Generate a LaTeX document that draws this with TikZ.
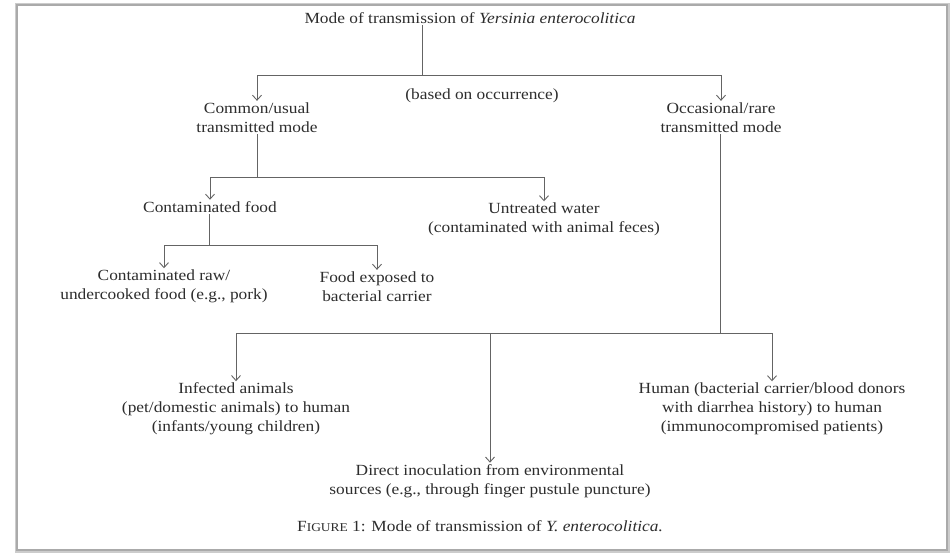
\documentclass[tikz,border=0pt]{standalone}
\usepackage{fontspec}
\setmainfont{Liberation Serif}[FakeStretch=1.12]
\usetikzlibrary{arrows.meta}
\definecolor{txt}{RGB}{45,45,45}
\definecolor{ln}{RGB}{100,100,100}
\definecolor{frm}{RGB}{170,170,170}
\tikzset{
  lbl/.style={text=txt, align=center, inner sep=1.5pt, font=\fontsize{15.5}{19}\selectfont},
  conn/.style={draw=ln, line width=0.9pt},
  arr/.style={conn, -{Straight Barb[length=5pt,width=9pt,line width=0.9pt]}},
}
\begin{document}
\begin{tikzpicture}[x=1pt,y=-1pt]
\useasboundingbox (0,0) rectangle (952,554);
\fill[white] (0,0) rectangle (952,554);
\draw[frm!60, line width=3pt] (16,4) rectangle (948,551);
\draw[frm, line width=1.5pt] (17,5) rectangle (947,550);
% nodes
\node[lbl] (title) at (470,18) {Mode of transmission of \textit{Yersinia enterocolitica}};
\node[lbl] (based) at (482,96) {(based on occurrence)};
\node[lbl] (common) at (257,117.5) {Common/usual\\transmitted mode};
\node[lbl] (occ) at (721,117.5) {Occasional/rare\\transmitted mode};
\node[lbl] (food) at (210,207) {Contaminated food};
\node[lbl] (water) at (544,219.5) {Untreated water\\(contaminated with animal feces)};
\node[lbl] (raw) at (164,286.5) {Contaminated raw/\\undercooked food (e.g., pork)};
\node[lbl] (exposed) at (377,286.5) {Food exposed to\\bacterial carrier};
\node[lbl] (infected) at (236,409) {Infected animals\\(pet/domestic animals) to human\\(infants/young children)};
\node[lbl] (human) at (772,409) {Human (bacterial carrier/blood donors\\with diarrhea history) to human\\(immunocompromised patients)};
\node[lbl] (direct) at (490,481) {Direct inoculation from environmental\\sources (e.g., through finger pustule puncture)};
\node[lbl] (caption) at (480,526) {F{\fontsize{12}{12}\selectfont IGURE} 1: Mode of transmission of \textit{Y. enterocolitica.}};
% junctions
\coordinate (j1) at (422,75);
\coordinate (j2) at (257,177);
\coordinate (j3) at (209,245);
\coordinate (j4) at (720,333);
% connectors
\draw[conn] (title.south -| j1) -- (j1);
\draw[arr] (j1) -| (common.north);
\draw[arr] (j1) -| (occ.north);
\draw[conn] (common.south) -- (j2);
\draw[arr] (j2) -| (food.north);
\draw[arr] (j2) -| (water.north);
\draw[conn] (food.south -| j3) -- (j3);
\draw[arr] (j3) -| (raw.north);
\draw[arr] (j3) -| (exposed.north);
\draw[conn] (occ.south -| j4) -- (j4);
\draw[arr] (j4) -| (infected.north);
\draw[arr] (j4) -| (direct.north);
\draw[arr] (j4) -| (human.north);
\end{tikzpicture}
\end{document}
